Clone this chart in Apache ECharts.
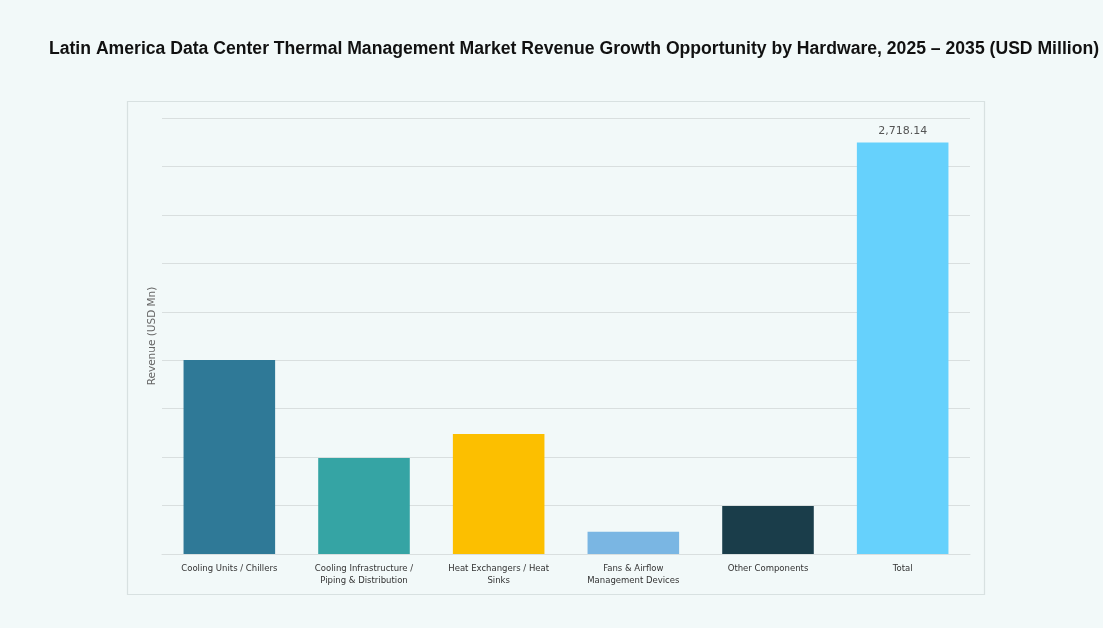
<!DOCTYPE html>
<html>
<head>
<meta charset="utf-8">
<script src="https://cdn.jsdelivr.net/npm/echarts@6/dist/echarts.min.js"></script>
<style>
html,body{margin:0;padding:0;background:#f2f9f9;}
#c{width:1103px;height:628px;}
</style>
</head>
<body>
<div id="c"></div>
<script>
const titleText = 'Latin America Data Center Thermal Management Market Revenue Growth Opportunity by Hardware, 2025 \u2013 2035 (USD Million)';
const categories = ['Cooling Units / Chillers', 'Cooling Infrastructure / Piping & Distribution', 'Heat Exchangers / Heat Sinks', 'Fans & Airflow Management Devices', 'Other Components', 'Total'];
const categoryLabels = ['Cooling Units / Chillers', 'Cooling Infrastructure /\nPiping & Distribution', 'Heat Exchangers / Heat\nSinks', 'Fans & Airflow\nManagement Devices', 'Other Components', 'Total'];
const revenue = [1281, 634, 793, 147, 317, 2718.14];
const barColors = ['#2f7997', '#35a4a4', '#fcbf00', '#7ab6e3', '#1a3d4a', '#66d1fc'];
const yAxisName = 'Revenue (USD Mn)';

const chart = echarts.init(document.getElementById('c'), null, {renderer: 'canvas'});
chart.setOption({
  backgroundColor: '#f2f9f9',
  animation: false,
  title: {
    text: titleText,
    left: 569, top: 35, textAlign: 'center',
    textStyle: {fontFamily: 'Liberation Sans, Arial', fontWeight: 'bold', fontSize: 17.6, color: '#111'}
  },
  graphic: [{
    type: 'rect', silent: true, z: -1,
    shape: {x: 127.5, y: 101.5, width: 857, height: 493},
    style: {fill: '#f2f9f9', stroke: '#d8e1e1', lineWidth: 1.2}
  }],
  grid: {left: 162, right: 133, top: 118, bottom: 74, containLabel: false},
  xAxis: {
    type: 'category',
    data: categories,
    axisLine: {show: true, lineStyle: {color: '#d9dfdf'}},
    axisTick: {show: false},
    axisLabel: {
      interval: 0, color: '#333', fontSize: 8.5, lineHeight: 12, margin: 9,
      fontFamily: 'DejaVu Sans',
      formatter: (v, i) => categoryLabels[i]
    }
  },
  yAxis: {
    type: 'value', min: 0, max: 2880, interval: 320,
    name: yAxisName, nameLocation: 'middle', nameGap: 4, nameRotate: 90,
    nameTextStyle: {color: '#666', fontSize: 10.5, fontFamily: 'DejaVu Sans'},
    axisLabel: {show: false},
    axisLine: {show: false}, axisTick: {show: false},
    splitLine: {lineStyle: {color: '#d9dfdf', width: 1}}
  },
  series: [{
    type: 'bar',
    barWidth: '68%',
    data: revenue.map((v, i) => ({value: v, itemStyle: {color: barColors[i]}})),
    label: {
      show: true, position: 'top', distance: 6, color: '#555', fontSize: 11,
      fontFamily: 'DejaVu Sans',
      formatter: p => p.dataIndex === categories.length - 1 ? p.value.toLocaleString('en-US', {minimumFractionDigits: 2}) : ''
    }
  }]
});
</script>
</body>
</html>
